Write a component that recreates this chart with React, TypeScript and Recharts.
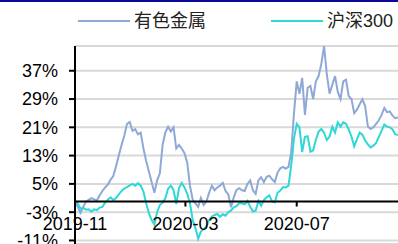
import { LineChart, Line, XAxis, YAxis, CartesianGrid, ReferenceLine, ReferenceDot } from 'recharts';

const dates = [
  '2019-11-01', '2019-11-04', '2019-11-07', '2019-11-10', '2019-11-13', '2019-11-16', '2019-11-19', '2019-11-22', '2019-11-25', '2019-11-28',
  '2019-12-01', '2019-12-04', '2019-12-07', '2019-12-10', '2019-12-13', '2019-12-16', '2019-12-19', '2019-12-22', '2019-12-25', '2019-12-28',
  '2019-12-31', '2020-01-03', '2020-01-06', '2020-01-09', '2020-01-12', '2020-01-15', '2020-01-18', '2020-01-21', '2020-01-24', '2020-01-27',
  '2020-01-30', '2020-02-02', '2020-02-05', '2020-02-08', '2020-02-11', '2020-02-14', '2020-02-17', '2020-02-20', '2020-02-23', '2020-02-26',
  '2020-02-29', '2020-03-03', '2020-03-06', '2020-03-09', '2020-03-12', '2020-03-15', '2020-03-18', '2020-03-21', '2020-03-24', '2020-03-27',
  '2020-03-30', '2020-04-02', '2020-04-05', '2020-04-08', '2020-04-11', '2020-04-14', '2020-04-17', '2020-04-20', '2020-04-23', '2020-04-26',
  '2020-04-29', '2020-05-02', '2020-05-05', '2020-05-08', '2020-05-11', '2020-05-14', '2020-05-17', '2020-05-20', '2020-05-23', '2020-05-26',
  '2020-05-29', '2020-06-01', '2020-06-04', '2020-06-07', '2020-06-10', '2020-06-13', '2020-06-16', '2020-06-19', '2020-06-22', '2020-06-25',
  '2020-06-28', '2020-07-01', '2020-07-04', '2020-07-07', '2020-07-10', '2020-07-13', '2020-07-16', '2020-07-19', '2020-07-22', '2020-07-25',
  '2020-07-28', '2020-07-31', '2020-08-03', '2020-08-06', '2020-08-09', '2020-08-12', '2020-08-15', '2020-08-18', '2020-08-21', '2020-08-24',
  '2020-08-27', '2020-08-30', '2020-09-02', '2020-09-05', '2020-09-08', '2020-09-11', '2020-09-14', '2020-09-17', '2020-09-20', '2020-09-23',
  '2020-09-26', '2020-09-29', '2020-10-02', '2020-10-05', '2020-10-08', '2020-10-11', '2020-10-14', '2020-10-17', '2020-10-20',
];

// 有色金属, %
const metals = [
  0, -1.5, -3.2, -1.5, 0, 0.5, 1, 0.6, 0.3, 1.8,
  3, 4, 4.8, 6.2, 7.2, 10, 13, 16, 18.6, 22,
  22.5, 20, 20.5, 19, 19.5, 15, 11.5, 8.5, 5.5, 2.5,
  6, 8, 16, 19.5, 21.2, 19.8, 21, 15, 16, 15,
  13.7, 11, 4.5, 0.5, -0.5, -1.5, 1, -1, 0, 2.5,
  4.5, 3.2, 4, 4.5, 5.3, 3, 2, -1.6, 1.2, 3.3,
  3.8, 3.2, 3, 5, 6, 3.2, 2.2, 6, 6.9, 5.5,
  7, 7.3, 6.3, 5.5, 8.2, 9.4, 9.8, 9.3, 9.8, 14,
  25, 34, 30.5, 35, 24.5, 32.2, 32.7, 29, 34, 35.5,
  39, 44, 36, 30.5, 33, 35.5, 31, 29, 34, 34.5,
  29.8, 29, 25, 26, 27.5, 28.9, 27, 21.2, 20.5, 21,
  22, 23, 24.5, 26.5, 25.3, 25.5, 24.3, 23.6, 23.8,
];

// 沪深300, %
const hs300 = [
  0.3, -0.5, -2, -1.8, -2.3, -2.2, -2.8, -2.2, -2.4, -1.7,
  -1.5, -0.3, 0.5, 1.2, 0.4, 1, 2, 3, 3.7, 4.1,
  4.6, 5, 4.5, 5.2, 4.5, 2.8, -0.5, -3.3, -5.2, -6.5,
  -3, -1, -0.3, 0.9, 3.6, 4.5, 3.3, -0.7, 3.8, 5.3,
  4, 2.2, -0.5, -5.2, -7.5, -10.5, -8.5, -7.8, -7, -5.2,
  -4.2, -3.8, -3.5, -4.3, -3.6, -4, -3, -2.5, -1.6, -1.3,
  -0.4, -0.5, -0.8, 0.2, -1.5, -2.8, -2.6, 0.2, -1.2, 0.4,
  1.2, 1.8, 0, -0.2, 2.5, 3.1, 4.1, 4, 4.5, 10.3,
  17.8, 22, 21, 14, 18.3, 18.5, 14.1, 14.5, 17.5, 19.8,
  20.5, 19.5, 17.4, 18.4, 21.2, 19.5, 22.4, 21.2, 22.4, 22,
  20.4, 18.4, 15.6, 17.6, 19.5, 18.9, 17.3, 16.2, 15.3, 15.8,
  16.6, 18.3, 20, 21.8, 21.2, 21, 20.4, 19, 18.9,
];

const seriesNames = ['有色金属', '沪深300'];
const colors = ['#8EA9D6', '#2ED8D4'];
const yTicks = [-11, -3, 5, 13, 21, 29, 37];
const xTickDates = ['2019-11-01', '2020-03-01', '2020-07-01'];

const DAY = 86400000;
const start = Date.parse(dates[0]);
const toDay = (s: string) => Math.round((Date.parse(s) - start) / DAY);

const data = dates.map((d, i) => ({ day: toDay(d), metals: metals[i], hs300: hs300[i] }));
const lastDay = toDay(dates[dates.length - 1]);

const font = '"Liberation Sans", Arial, "Noto Sans CJK SC", sans-serif';

const App = () => {
  return (
    <div style={{ position: 'relative', width: 398, height: 244, fontFamily: font, background: '#fff', overflow: 'hidden' }}>
      <style>{'body{margin:0}'}</style>
      <div style={{ position: 'absolute', top: 0, left: 0, width: 398, height: 2, background: '#0a0a96', zIndex: 2 }} />
      <div style={{ position: 'absolute', top: 10, left: 78, display: 'flex', alignItems: 'center', fontSize: 18, color: '#222', zIndex: 2, lineHeight: '22px' }}>
        {seriesNames.map((n, i) => (
          <div key={n} style={{ display: 'flex', alignItems: 'center', marginLeft: i ? 65 : 0 }}>
            <span style={{ display: 'inline-block', width: 52, height: 2, background: colors[i], marginRight: 4 }} />
            <span>{n}</span>
          </div>
        ))}
      </div>
      <LineChart width={398} height={244} data={data} margin={{ top: 46, right: 0, bottom: 0, left: 0 }}>
        <CartesianGrid horizontal vertical={false} stroke="#d9d9d9" strokeWidth={2} />
        <XAxis type="number" dataKey="day" domain={[0, lastDay]} hide />
        <YAxis
          type="number"
          domain={[-12, 44]}
          ticks={yTicks}
          interval={0}
          width={75}
          tickFormatter={(v) => `${v}%`}
          axisLine={{ stroke: '#000', strokeWidth: 2 }}
          tickLine={{ stroke: '#000', strokeWidth: 2 }}
          tickSize={6}
          tickMargin={11}
          tick={{ fill: '#000', fontSize: 18, fontFamily: font }}
        />
        <Line type="linear" dataKey="metals" stroke={colors[0]} strokeWidth={2} dot={false} isAnimationActive={false} />
        <Line type="linear" dataKey="hs300" stroke={colors[1]} strokeWidth={2} dot={false} isAnimationActive={false} />
        <ReferenceLine y={0} stroke="#000" strokeWidth={2} />
        {xTickDates.map((d) => (
          <ReferenceLine
            key={`t${d}`}
            segment={[{ x: toDay(d), y: 0 }, { x: toDay(d), y: -1.4 }]}
            stroke="#000"
            strokeWidth={2}
          />
        ))}
        {xTickDates.map((d) => (
          <ReferenceDot
            key={`l${d}`}
            x={toDay(d)}
            y={0}
            r={0}
            fill="none"
            stroke="none"
            label={{ value: d.slice(0, 7), position: 'bottom', offset: 16, fill: '#000', fontSize: 18, fontFamily: font }}
          />
        ))}
      </LineChart>
    </div>
  );
};

export default App;
